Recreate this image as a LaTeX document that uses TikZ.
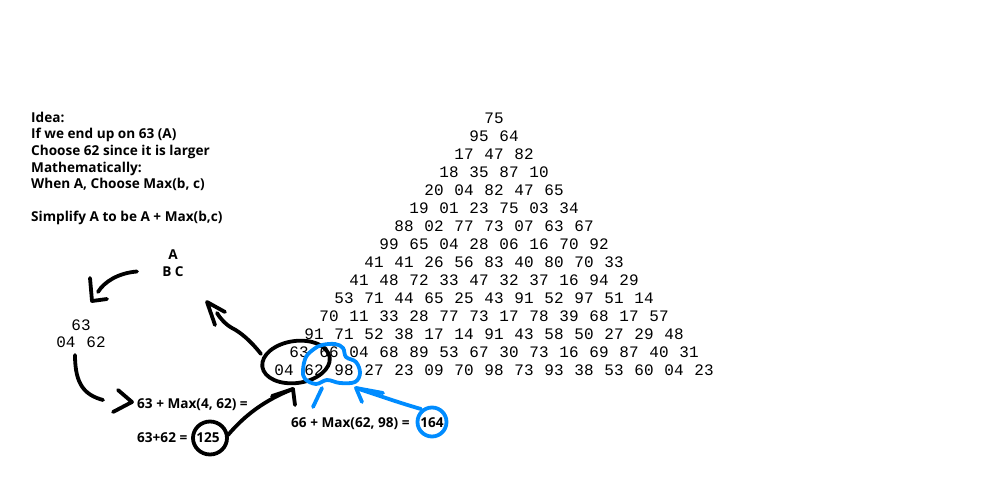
\documentclass[tikz,border=0pt]{standalone}
\usepackage{fontspec}
\setmainfont{Open Sans}
\setmonofont{Liberation Mono}
\usepackage{xcolor}
\definecolor{bleuPaint}{RGB}{0,140,255}

\begin{document}
\begin{tikzpicture}[x=1pt,y=-1pt]
% Styles
\tikzstyle{nombre}=[font=\ttfamily\fontsize{16}{16}\selectfont,inner sep=0pt]
\tikzstyle{texte}=[font=\bfseries\fontsize{13.6}{15}\selectfont,inner sep=0pt,anchor=base west]
\tikzstyle{lettre}=[font=\bfseries\fontsize{13.6}{15}\selectfont,inner sep=0pt,anchor=base]
\tikzstyle{crayon}=[line width=3.8pt,line cap=round,line join=round]
\tikzstyle{crayonnoir}=[crayon,black]
\tikzstyle{crayonbleu}=[crayon,bleuPaint]
% Dimensions
\def\PasX{30}
\def\PasY{18}
\def\Sommet{494}
\def\Haut{118}
\def\Gauche{31}
\def\Interligne{16.7}
% Cadre
\useasboundingbox (0,0) rectangle (1000,500);
% Triangle
\foreach \ligne [count=\i from 0] in {{75},{95,64},{17,47,82},{18,35,87,10},
  {20,04,82,47,65},{19,01,23,75,03,34},{88,02,77,73,07,63,67},
  {99,65,04,28,06,16,70,92},{41,41,26,56,83,40,80,70,33},
  {41,48,72,33,47,32,37,16,94,29},{53,71,44,65,25,43,91,52,97,51,14},
  {70,11,33,28,77,73,17,78,39,68,17,57},{91,71,52,38,17,14,91,43,58,50,27,29,48},
  {63,66,04,68,89,53,67,30,73,16,69,87,40,31},
  {04,62,98,27,23,09,70,98,73,93,38,53,60,04,23}}
  \foreach \n [count=\j from 0] in \ligne
    \node[nombre] (T\i-\j) at ({\Sommet+(\j-\i/2)*\PasX},{\Haut+\i*\PasY}) {\n};
% Idee
\node[texte] (Idee) at (\Gauche,122) {Idea:};
\node[texte] (Fin) at (\Gauche,{122+1*\Interligne}) {If we end up on 63 (A)};
\node[texte] (Choix) at (\Gauche,{122+2*\Interligne}) {Choose 62 since it is larger};
\node[texte] (Maths) at (\Gauche,{122+3*\Interligne}) {Mathematically:};
\node[texte] (Quand) at (\Gauche,{122+4*\Interligne}) {When A, Choose Max(b, c)};
\node[texte] (Simpl) at (\Gauche,{122+6*\Interligne-1}) {Simplify A to be A + Max(b,c)};
% Petit triangle
\node[lettre] (A) at (173,259.5) {A};
\node[lettre] (BC) at (173,276.5) {B C};
\node[nombre] (Ma) at (81,325) {63};
\node[nombre] (Mb) at (66,342) {04};
\node[nombre] (Mc) at (96,342) {62};
% Calculs
\node[texte] (CalcA) at (137,408.5) {63 + Max(4, 62) =};
\node[texte] (CalcB) at (137,442.5) {63+62 =};
\node[lettre] (R125) at (208,442.5) {125};
\node[texte] (CalcC) at (291,427.5) {66 + Max(62, 98) =};
\node[lettre] (R164) at (432,427.5) {164};
% Pointes
\coordinate (PA) at (92,301);
\coordinate (PB) at (132,402);
\coordinate (PC) at (207,302);
\coordinate (PD) at (293,389);
\coordinate (PE) at (356,388);
% Traits noirs
\draw[crayonnoir] (137,271.5) .. controls (118,273) and (104,282) .. (98,292);
\draw[crayonnoir] (90,278) -- (PA) -- (107,299);
\draw[crayonnoir] (75,355) .. controls (75,385) and (85,395) .. (103,400);
\draw[crayonnoir] (118,390) -- (PB) -- (113,412);
\draw[crayonnoir] (261,354) .. controls (250,340) and (240,332) .. (232,328)
  .. controls (225,324) and (220,318) .. (217,313);
\draw[crayonnoir] (225,312) -- (PC) -- (215,325);
\draw[crayonnoir,rotate around={8:(296,362)}] (296,362) ellipse (34 and 21);
\draw[crayonnoir] (210,438) ellipse (17 and 16.5);
\draw[crayonnoir] (228,435) .. controls (245,415) and (265,400) .. (PD);
\draw[crayonnoir] (272,396) -- (PD) -- (295,405);
% Traits bleus
\draw[crayonbleu] plot[smooth cycle,tension=0.6] coordinates {(303,370) (306,357) (314,349)
  (322,345) (335,344) (343,348) (346,357) (356,362) (360,373) (355,382)
  (340,383) (327,380) (316,384) (305,379)};
\draw[crayonbleu] (322,388) -- (313,407);
\draw[crayonbleu] (432,422) circle (14.5);
\draw[crayonbleu] (421,409) .. controls (400,403) and (380,396) .. (PE);
\draw[crayonbleu] (362,402) -- (PE) -- (383,393);
\end{tikzpicture}
\end{document}
